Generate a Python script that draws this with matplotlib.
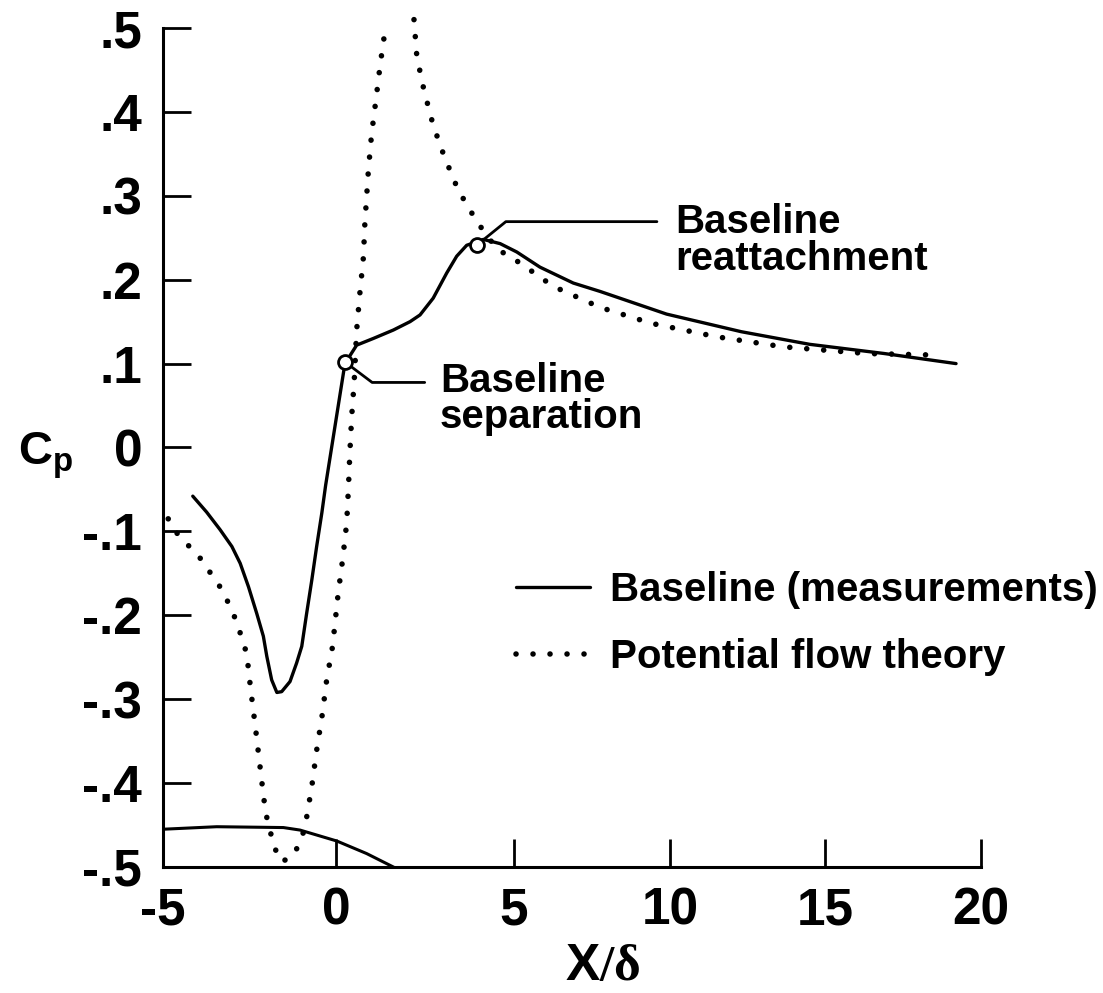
import numpy as np
import matplotlib
matplotlib.use("Agg")
import matplotlib.pyplot as plt
from matplotlib import rcParams

# Baseline Cp measurements along the wall (X/delta, Cp)
meas_x = [-4.14, -3.74, -3.35, -3.01, -2.77, -2.53, -2.29, -2.10, -2.00, -1.86,
          -1.71, -1.57, -1.33, -1.14, -0.99, -0.85, -0.70, -0.56, -0.41, -0.30,
          0.25, 0.58, 1.05, 1.61, 2.08, 2.36, 2.73, 3.11, 3.39, 3.67,
          4.14, 4.61, 5.09, 5.83, 6.9, 7.76, 9.89, 12.3, 14.5, 16.9, 19.2]
meas_cp = [-0.058, -0.077, -0.098, -0.118, -0.138, -0.166, -0.198, -0.225, -0.249, -0.277,
           -0.292, -0.291, -0.279, -0.257, -0.237, -0.198, -0.158, -0.118, -0.078, -0.045,
           0.100, 0.122, 0.130, 0.140, 0.150, 0.158, 0.178, 0.208, 0.228, 0.241,
           0.248, 0.243, 0.233, 0.215, 0.196, 0.186, 0.159, 0.138, 0.123, 0.112, 0.100]

# Potential flow theory, split at the singularity near X/delta ~ 1.8
theory_left_x = [-4.85, -4.60, -4.24, -3.88, -3.59, -3.32, -3.09, -2.89, -2.73, -2.58,
                 -2.47, -2.34, -2.22, -2.10, -2.03, -1.79, -1.57, -1.23, -0.99, -0.87,
                 -0.70, -0.56, -0.40, -0.27, -0.10, 0.06, 0.19, 0.30, 0.35, 0.39,
                 0.44, 0.51, 0.58, 0.67, 0.77, 0.81, 0.91, 1.00, 1.12, 1.24, 1.38]
theory_left_cp = [-0.085, -0.102, -0.118, -0.134, -0.152, -0.168, -0.187, -0.206, -0.226, -0.246,
                  -0.287, -0.330, -0.372, -0.414, -0.436, -0.476, -0.494, -0.486, -0.466, -0.446,
                  -0.404, -0.361, -0.319, -0.277, -0.237, -0.174, -0.132, -0.090, -0.047, -0.005,
                  0.037, 0.078, 0.140, 0.184, 0.227, 0.267, 0.331, 0.374, 0.414, 0.456, 0.498]
theory_right_x = [2.19, 2.27, 2.47, 2.73, 3.04, 3.43, 3.96, 4.51, 5.19, 6.26,
                  7.76, 9.4, 11.5, 13.65, 16.34, 18.76]
theory_right_cp = [0.510, 0.466, 0.426, 0.384, 0.347, 0.307, 0.269, 0.237, 0.220, 0.192,
                   0.167, 0.148, 0.132, 0.120, 0.112, 0.110]

# Hump contour sketched at the bottom of the plot
hump_x = [-5.0, -3.45, -1.52, -1.04, 0.02, 0.86, 1.61]
hump_cp = [-0.455, -0.452, -0.453, -0.456, -0.469, -0.484, -0.500]

# Separation / reattachment points
sep_point = (0.25, 0.102)
reat_point = (3.95, 0.241)

x_ticks = [-5, 0, 5, 10, 15, 20]
x_tick_labels = ["-5", "0", "5", "10", "15", "20"]
y_ticks = [-0.5, -0.4, -0.3, -0.2, -0.1, 0.0, 0.1, 0.2, 0.3, 0.4, 0.5]
y_tick_labels = ["-.5", "-.4", "-.3", "-.2", "-.1", "0", ".1", ".2", ".3", ".4", ".5"]

# the scanned axis is not evenly spaced: relative tick spacing along x
tick_spacing = [0, 173, 351, 507, 662, 818]

rcParams["font.family"] = ["Liberation Sans Narrow", "Liberation Sans", "DejaVu Sans"]
rcParams["font.weight"] = "bold"
rcParams["mathtext.fontset"] = "custom"
rcParams["mathtext.rm"] = "Liberation Serif"
rcParams["mathtext.bf"] = "Liberation Sans:bold"

ext_x = [-1000.0] + x_ticks + [1000.0]
lo_slope = (tick_spacing[1] - tick_spacing[0]) / (x_ticks[1] - x_ticks[0])
hi_slope = (tick_spacing[-1] - tick_spacing[-2]) / (x_ticks[-1] - x_ticks[-2])
ext_p = ([tick_spacing[0] - lo_slope * (x_ticks[0] + 1000)] + tick_spacing
         + [tick_spacing[-1] + hi_slope * (1000 - x_ticks[-1])])


def forward(x):
    return np.interp(x, ext_x, ext_p)


def inverse(p):
    return np.interp(p, ext_p, ext_x)


fig = plt.figure(figsize=(11.03, 9.93), dpi=100)
ax = fig.add_axes([0.1478, 0.1269, 0.7416, 0.8449])
ax.set_xscale("function", functions=(forward, inverse))

ax.plot(meas_x, meas_cp, color="black", lw=2.4, solid_joinstyle="round",
        solid_capstyle="round", label="Baseline (measurements)")
dot_style = dict(color="black", lw=4.0, linestyle=(0, (0.01, 3.05)),
                 dash_capstyle="round")
ax.plot(theory_left_x, theory_left_cp, clip_on=False,
        label="Potential flow theory", **dot_style)
ax.plot(theory_right_x, theory_right_cp, clip_on=False, **dot_style)
ax.plot(hump_x, hump_cp, color="black", lw=2.2)

for pt in (sep_point, reat_point):
    ax.plot(*pt, marker="o", ms=10, mfc="white", mec="black", mew=2.0,
            linestyle="none", zorder=5)

txt_kw = dict(fontsize=29, fontweight="bold", ha="left", va="center",
              linespacing=0.95)
ax.annotate("Baseline\nseparation", xy=sep_point, xytext=(2.92, 0.058),
            arrowprops=dict(arrowstyle="-", lw=2.0, color="black",
                            connectionstyle="angle,angleA=0,angleB=-37,rad=0",
                            relpos=(0, 0.72), shrinkA=9, shrinkB=4),
            **txt_kw)
ax.annotate("Baseline\nreattachment", xy=reat_point, xytext=(10.16, 0.247),
            arrowprops=dict(arrowstyle="-", lw=2.0, color="black",
                            connectionstyle="angle,angleA=0,angleB=39,rad=0",
                            relpos=(0, 0.75), shrinkA=11, shrinkB=4),
            **txt_kw)

ax.set_xlim(-5, 20)
ax.set_ylim(-0.5, 0.5)
ax.set_xticks(x_ticks)
ax.set_xticklabels(x_tick_labels)
ax.set_yticks(y_ticks)
ax.set_yticklabels(y_tick_labels)
ax.xaxis.set_minor_locator(matplotlib.ticker.NullLocator())
ax.tick_params(direction="in", length=20, width=2.0, labelsize=37)
ax.tick_params(axis="x", pad=14)
ax.tick_params(axis="y", pad=15)
for side in ("top", "right"):
    ax.spines[side].set_visible(False)
for side in ("left", "bottom"):
    ax.spines[side].set_linewidth(2.2)

ax.set_ylabel("C$_\\mathbf{p}$", fontsize=34, fontweight="bold", rotation=0,
              ha="center", va="center")
ax.yaxis.set_label_coords(-0.144, 0.49)
ax.set_xlabel("X$\\mathrm{/\\delta}$", fontsize=37, fontweight="bold",
              ha="center", va="center")
ax.xaxis.set_label_coords(0.537, -0.119)

ax.legend(loc="center left", bbox_to_anchor=(0.431, 0.29), frameon=False,
          fontsize=29, handlelength=1.85, handletextpad=0.5,
          labelspacing=0.72, borderpad=0, borderaxespad=0)

fig.savefig("out.png", dpi=100)
